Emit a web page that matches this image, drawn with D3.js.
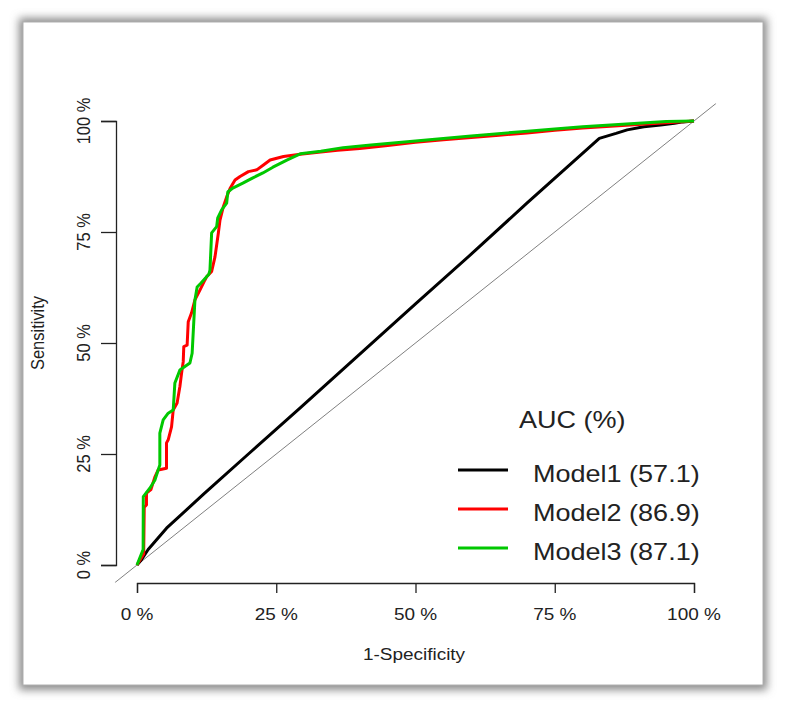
<!DOCTYPE html>
<html>
<head>
<meta charset="utf-8">
<script src="https://cdn.jsdelivr.net/npm/d3@7"></script>
<style>
  html, body { margin: 0; padding: 0; background: #fff; }
  svg { display: block; }
  text { font-family: "Liberation Sans", Arial, sans-serif; fill: #222; }
</style>
</head>
<body>
<div id="chart"></div>
<script>
// ---------------- data ----------------
const xTicks = [0, 25, 50, 75, 100];
const yTicks = [0, 25, 50, 75, 100];
const xTickLabels = ["0 %", "25 %", "50 %", "75 %", "100 %"];
const yTickLabels = ["0 %", "25 %", "50 %", "75 %", "100 %"];
const xTitle = "1-Specificity";
const yTitle = "Sensitivity";
const legendTitle = "AUC (%)";
const modelNames = ["Model1 (57.1)", "Model2 (86.9)", "Model3 (87.1)"];
const modelColors = ["#000000", "#ff0000", "#00c800"];

// 1-Specificity (%) and Sensitivity (%)
const model1FPR = [0, 0.8, 2, 5.3, 12, 20, 29.3, 40, 50, 60, 70, 83, 86, 88, 91, 94, 96.5, 98, 100];
const model1TPR = [0, 1.2, 3.5, 8.3, 16, 25, 35.4, 47.5, 58.8, 70, 81.5, 96.1, 97.2, 98, 98.7, 99.1, 99.5, 99.8, 100];

const model2FPR = [0, 1.2, 1.3, 1.7, 1.7, 2.5, 3.2, 3.8, 5.3, 5.3, 5.6, 6.2, 6.5, 7.2, 7.7, 8.0, 8.3, 8.4, 9.0, 9.2, 9.8, 10.4, 11.3, 12.2, 12.5, 13.4, 14.0, 14.6, 14.9, 15.5, 16.1, 16.7, 17.6, 18.5, 20.0, 21.5, 22.7, 23.9, 26.3, 29.3, 33, 36, 40, 45, 50, 55, 60, 65, 70, 75, 80, 85, 90, 95, 100];
const model2TPR = [0, 2.5, 13, 13.5, 16.2, 17, 19.8, 21.4, 21.8, 27.5, 28.2, 31.1, 34.9, 36.5, 40.2, 43.2, 45.8, 49.2, 49.5, 54.8, 56.8, 59.7, 61.9, 64.2, 64.9, 66.1, 69.4, 74.7, 77.7, 80.7, 82.9, 84.8, 86.7, 87.5, 88.6, 89.0, 90.1, 91.2, 92.0, 92.5, 93.0, 93.4, 93.8, 94.5, 95.2, 95.8, 96.3, 96.8, 97.3, 97.9, 98.4, 98.8, 99.2, 99.6, 100];

const model3FPR = [0, 1.1, 1.13, 2.3, 3.2, 3.8, 4.1, 4.1, 4.7, 5.6, 6.5, 6.8, 7.7, 9.5, 9.9, 10.4, 10.8, 11.5, 12.9, 13.1, 13.4, 14.3, 14.5, 15.2, 16.1, 16.3, 17.2, 19, 20.8, 22.6, 24.4, 26.9, 29.3, 33, 37, 42, 50, 60, 69, 75, 80, 85, 90, 95, 100];
const model3TPR = [0, 3.5, 15.4, 17.3, 19.1, 21.4, 22.5, 29.7, 32.7, 34.2, 34.9, 41, 43.9, 45.5, 47.7, 59.7, 62.6, 63.5, 65.5, 66.4, 74.8, 76.2, 78.2, 80, 81.5, 84, 84.9, 86, 87.2, 88.3, 89.6, 91.2, 92.6, 93.2, 94, 94.6, 95.5, 96.6, 97.6, 98.2, 98.7, 99.1, 99.5, 99.9, 100];

const diagonalExtent = [-4, 104];

// ---------------- drawing ----------------
const W = 787, H = 708;
const SX = 1.15; // horizontal stretch of the original picture's text

const svg = d3.select("#chart").append("svg")
  .attr("width", W).attr("height", H);

const defs = svg.append("defs");
const f = defs.append("filter").attr("id", "shadow")
  .attr("x", "-5%").attr("y", "-5%").attr("width", "110%").attr("height", "110%");
f.append("feGaussianBlur").attr("stdDeviation", 4);
const clip = defs.append("clipPath").attr("id", "plotclip");

// frame with shadow
svg.append("rect").attr("x", 19).attr("y", 18).attr("width", 748).attr("height", 672)
  .attr("fill", "#8a8a8a").attr("filter", "url(#shadow)");
svg.append("rect").attr("x", 23).attr("y", 22).attr("width", 740).attr("height", 663)
  .attr("fill", "#fff").attr("stroke", "#b0b0b0").attr("stroke-width", 1);

const x = d3.scaleLinear().domain([0, 100]).range([137, 694]);
const y = d3.scaleLinear().domain([0, 100]).range([565, 121]);

clip.append("rect")
  .attr("x", x(diagonalExtent[0])).attr("y", y(diagonalExtent[1]))
  .attr("width", x(diagonalExtent[1]) - x(diagonalExtent[0]))
  .attr("height", y(diagonalExtent[0]) - y(diagonalExtent[1]));

// axes
const xAxisY = 583, yAxisX = 116;
const gx = svg.append("g").attr("transform", `translate(0,${xAxisY})`)
  .call(d3.axisBottom(x).tickValues(xTicks).tickSize(10).tickFormat(""));
const gy = svg.append("g").attr("transform", `translate(${yAxisX},0)`)
  .call(d3.axisLeft(y).tickValues(yTicks).tickSize(15).tickFormat(""));
[gx, gy].forEach(g => {
  g.selectAll("path, line").attr("stroke", "#222").attr("stroke-width", 1.3);
});

// tick labels
svg.append("g").selectAll("text").data(xTicks).join("text")
  .attr("transform", d => `translate(${x(d)},620) scale(${SX},1)`)
  .attr("text-anchor", "middle").attr("font-size", 16.5)
  .text((d, i) => xTickLabels[i]);
svg.append("g").selectAll("text").data(yTicks).join("text")
  .attr("transform", d => `translate(90,${y(d)}) scale(${SX},1) rotate(-90)`)
  .attr("text-anchor", "middle").attr("font-size", 16.5)
  .text((d, i) => yTickLabels[i]);

// axis titles
svg.append("text").attr("transform", `translate(414,660) scale(${SX},1)`)
  .attr("text-anchor", "middle").attr("font-size", 16.5).text(xTitle);
svg.append("text").attr("transform", `translate(44,333) scale(${SX},1) rotate(-90)`)
  .attr("text-anchor", "middle").attr("font-size", 16.5).text(yTitle);

// plot content
const plot = svg.append("g").attr("clip-path", "url(#plotclip)");
plot.append("line")
  .attr("x1", x(diagonalExtent[0])).attr("y1", y(diagonalExtent[0]))
  .attr("x2", x(diagonalExtent[1])).attr("y2", y(diagonalExtent[1]))
  .attr("stroke", "#808080").attr("stroke-width", 1);

const line = d3.line().x(d => x(d[0])).y(d => y(d[1]));
const series = [
  d3.zip(model1FPR, model1TPR),
  d3.zip(model2FPR, model2TPR),
  d3.zip(model3FPR, model3TPR)
];
series.forEach((s, i) => {
  plot.append("path").datum(s).attr("d", line)
    .attr("fill", "none").attr("stroke", modelColors[i])
    .attr("stroke-width", 3).attr("stroke-linejoin", "round");
});

// legend
svg.append("text").attr("transform", `translate(519,428) scale(${SX},1)`)
  .attr("font-size", 23.5).text(legendTitle);
const lg = svg.append("g");
modelNames.forEach((name, i) => {
  const ly = 470 + i * 39;
  lg.append("line").attr("x1", 458).attr("x2", 508).attr("y1", ly).attr("y2", ly)
    .attr("stroke", modelColors[i]).attr("stroke-width", 3);
  lg.append("text").attr("transform", `translate(533,${ly + 12}) scale(${SX},1)`)
    .attr("font-size", 23.5).text(name);
});
</script>
</body>
</html>
